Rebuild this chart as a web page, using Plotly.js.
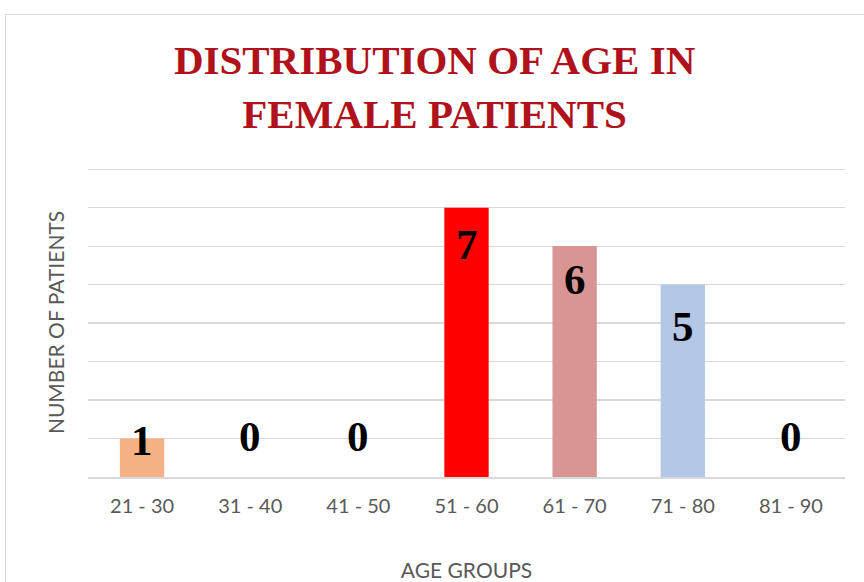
<!DOCTYPE html>
<html>
<head>
<meta charset="utf-8">
<script src="https://cdn.plot.ly/plotly-3.0.1.min.js"></script>
<style>
  html, body { margin: 0; padding: 0; background: #ffffff; width: 864px; height: 582px; overflow: hidden; }
  #frame { position: absolute; left: 5px; top: 14px; width: 900px; height: 620px; border: 1.5px solid #d9d9d9; box-sizing: border-box; }
  #chart { position: absolute; left: 0; top: 0; width: 864px; height: 582px; }
</style>
</head>
<body>
<div id="frame"></div>
<div id="chart"></div>
<script>
// ---- data ----
const categories = ["21 - 30", "31 - 40", "41 - 50", "51 - 60", "61 - 70", "71 - 80", "81 - 90"];
const patients = [1, 0, 0, 7, 6, 5, 0];
const barColors = ["#F4B183", "#C9C9C9", "#C9C9C9", "#FF0000", "#D99594", "#B4C7E7", "#C9C9C9"];

// label placement tweaks (styling only): vertical shift of each value label in axis units
const labelShift = [-0.04, 1.04, 1.04, -0.97, -0.86, -1.08, 1.04];

const annotations = categories.map((c, i) => ({
  x: c,
  y: patients[i] + labelShift[i],
  xref: "x", yref: "y",
  text: String(patients[i]),
  showarrow: false,
  yanchor: "middle",
  font: { family: "Liberation Serif, Times New Roman, serif", size: 43, color: "#000000", weight: "bold" }
}));

const trace = {
  type: "bar",
  x: categories,
  y: patients,
  marker: { color: barColors, line: { width: 0 } },
  width: 0.41,
  hoverinfo: "x+y"
};

const axisFont = "Lato, Open Sans, sans-serif";

const layout = {
  width: 864, height: 582,
  margin: { l: 88, r: 19, t: 168, b: 105 },
  paper_bgcolor: "rgba(0,0,0,0)",
  plot_bgcolor: "rgba(0,0,0,0)",
  showlegend: false,
  title: {
    text: "<b>DISTRIBUTION OF AGE IN<br>FEMALE PATIENTS</b>",
    font: { family: "Liberation Serif, Times New Roman, serif", size: 41, color: "#B0121B" },
    x: 0.503, xref: "container", xanchor: "center",
    y: 0.872, yref: "container", yanchor: "middle"
  },
  xaxis: {
    type: "category",
    range: [-0.5, 6.5],
    showgrid: false,
    showline: true, linecolor: "#d9d9d9", linewidth: 1.5,
    ticks: "",
    ticklabelstandoff: 10,
    tickfont: { family: axisFont, size: 20, color: "#595959" },
    title: { text: "AGE GROUPS", font: { family: axisFont, size: 21, color: "#595959" }, standoff: 48 }
  },
  yaxis: {
    range: [0, 8.03],
    dtick: 1,
    showgrid: true, gridcolor: "#d9d9d9", gridwidth: 1.2,
    zeroline: false,
    showticklabels: false,
    ticks: "",
    title: { text: "NUMBER OF PATIENTS", font: { family: axisFont, size: 21, color: "#595959" }, standoff: 16 }
  },
  annotations: annotations
};

Plotly.newPlot("chart", [trace], layout, { displayModeBar: false, staticPlot: true });
</script>
</body>
</html>
